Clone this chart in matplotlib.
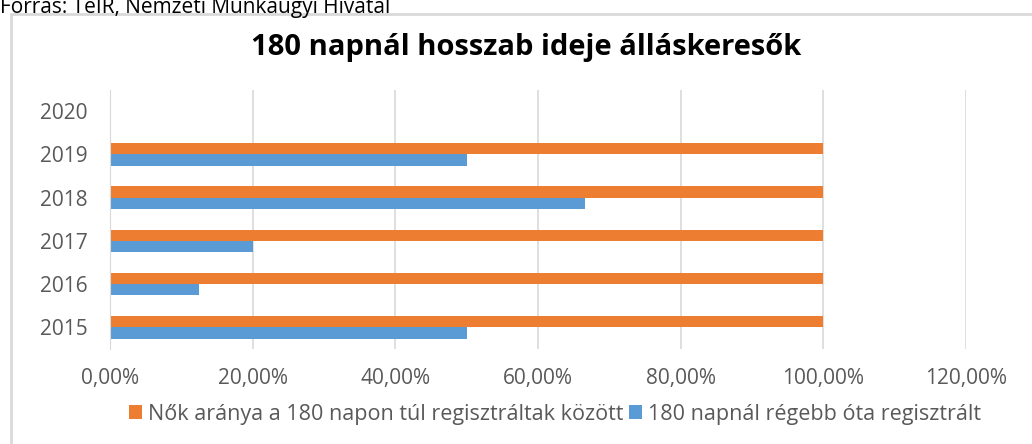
import numpy as np
import matplotlib.pyplot as plt
from matplotlib.patches import Rectangle
from matplotlib.ticker import FuncFormatter

# adatok
years = ["2015", "2016", "2017", "2018", "2019", "2020"]
nok_aranya = [1.0, 1.0, 1.0, 1.0, 1.0, np.nan]           # Nők aránya a 180 napon túl regisztráltak között
regisztralt_180 = [0.50, 0.125, 0.20, 0.666, 0.50, np.nan]  # 180 napnál régebb óta regisztrált

title = "180 napnál hosszab ideje álláskeresők"
source = "Forrás: TeIR, Nemzeti Munkaügyi Hivatal"
label_orange = "Nők aránya a 180 napon túl regisztráltak között"
label_blue = "180 napnál régebb óta regisztrált"

ORANGE = "#ED7D31"
BLUE = "#5B9BD5"
GREY_TXT = "#595959"
GRID = "#D9D9D9"

plt.rcParams['font.family'] = ['Open Sans', 'DejaVu Sans']

fig = plt.figure(figsize=(10.32, 4.44), dpi=100)

# keret a diagram körül
fig.patches.append(Rectangle((11 / 1032, -0.05), 1.1, 1 - 14 / 444 + 0.05,
                             transform=fig.transFigure, fill=False,
                             edgecolor=GRID, linewidth=2))

# forrás - a képen felül le van vágva
fig.text(0.0, 1 - 13 / 444, source, fontsize=15, color="black", ha="left", va="baseline")
fig.text(526 / 1032, 1 - 47 / 444, title, fontsize=21, fontweight="bold",
         color="black", ha="center", va="center")

ax = fig.add_axes([110 / 1032, 1 - 349 / 444, 856 / 1032, 259.5 / 444])

y = np.arange(len(years))
h = 0.26
ax.barh(y + h / 2, nok_aranya, height=h, color=ORANGE, label=label_orange, zorder=2)
ax.barh(y - h / 2, regisztralt_180, height=h, color=BLUE, label=label_blue, zorder=2)

ax.set_xlim(0, 1.2)
ax.set_ylim(-0.5, len(years) - 0.5)
ax.set_xticks(np.arange(0, 1.21, 0.2))
ax.xaxis.set_major_formatter(FuncFormatter(lambda v, p: f"{v * 100:.2f}%".replace(".", ",")))
ax.set_yticks(y)
ax.set_yticklabels(years)

ax.grid(axis="x", color=GRID, linewidth=1.2, zorder=0)
for s in ["top", "right", "bottom"]:
    ax.spines[s].set_visible(False)
ax.spines["left"].set_color(GRID)
ax.tick_params(axis="both", length=0, labelsize=15, colors=GREY_TXT)
ax.tick_params(axis="x", pad=14)
ax.tick_params(axis="y", pad=16)

handles, labels = ax.get_legend_handles_labels()
fig.legend(handles, labels, loc="center", bbox_to_anchor=(555 / 1032, 1 - 414 / 444),
           ncol=2, frameon=False, fontsize=15.5, labelcolor=GREY_TXT,
           handlelength=0.6, handleheight=0.6, handletextpad=0.25, columnspacing=0.3)

fig.savefig("out.png", dpi=100)
